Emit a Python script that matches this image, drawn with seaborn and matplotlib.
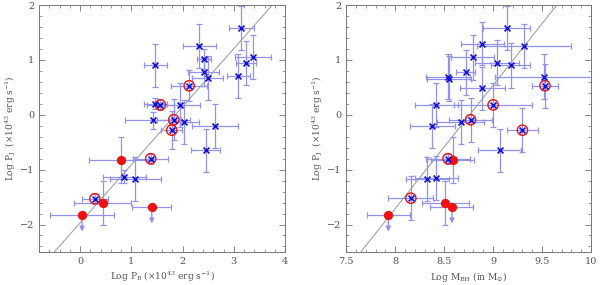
import numpy as np
import pandas as pd
import seaborn as sns
import matplotlib as mpl
import matplotlib.pyplot as plt
from matplotlib.ticker import MultipleLocator, FuncFormatter

sns.set_style("ticks")
plt.rcParams['font.family'] = ['DejaVu Serif']
plt.rcParams['mathtext.fontset'] = 'dejavuserif'

# ---- left panel: log P_B vs log P_J ----
pb_blue = [3.15, 2.33, 2.42, 1.47, 3.37, 3.24, 2.41, 2.49, 3.09, 1.47, 1.96, 1.43, 2.03, 2.64, 2.45, 0.86, 1.08]
pj_blue = [1.59, 1.25, 1.02, 0.90, 1.06, 0.95, 0.78, 0.67, 0.70, 0.20, 0.18, -0.10, -0.13, -0.21, -0.65, -1.13, -1.17]
pb_blue_err = [0.25, 0.32, 0.13, 0.23, 0.35, 0.20, 0.30, 0.30, 0.23, 0.23, 0.38, 0.55, 0.30, 0.45, 0.28, 0.42, 0.50]
pj_blue_err = [0.40, 0.40, 0.18, 0.40, 0.40, 0.40, 0.25, 0.40, 0.40, 0.10, 0.40, 0.15, 0.40, 0.40, 0.40, 0.12, 0.40]

pb_circ = [2.13, 1.57, 1.83, 1.79, 1.38, 0.29]
pj_circ = [0.53, 0.18, -0.09, -0.28, -0.80, -1.53]
pb_circ_err = [0.35, 0.26, 0.32, 0.20, 0.34, 0.25]
pj_circ_err = [0.28, 0.10, 0.37, 0.35, 0.09, 0.09]

pb_red = [0.80, 0.44]
pj_red = [-0.83, -1.61]
pb_red_err = [0.62, 0.55]
pj_red_err = [0.42, 0.40]

pb_lim = [0.04, 1.40]
pj_lim = [-1.83, -1.68]
pb_lim_err = [0.62, 0.38]

# ---- right panel: log M_BH vs log P_J ----
m_blue = [9.14, 8.89, 9.32, 8.79, 9.04, 9.18, 8.72, 8.54, 8.55, 9.52, 8.89, 8.42, 8.67, 8.38, 9.07, 8.33, 8.42]
mj_blue = [1.59, 1.30, 1.25, 1.05, 0.95, 0.90, 0.78, 0.69, 0.66, 0.69, 0.48, 0.18, -0.13, -0.21, -0.65, -1.17, -1.15]
m_blue_err = [0.24, 0.22, 0.48, 0.22, 0.22, 0.20, 0.10, 0.22, 0.22, 0.50, 0.23, 0.22, 0.24, 0.23, 0.22, 0.22, 0.22]
mj_blue_err = [0.40, 0.40, 0.40, 0.41, 0.41, 0.41, 0.41, 0.41, 0.41, 0.41, 0.40, 0.40, 0.40, 0.40, 0.40, 0.40, 0.40]

m_circ = [9.53, 9.00, 8.77, 9.30, 8.54, 8.16]
mj_circ = [0.53, 0.18, -0.09, -0.28, -0.80, -1.52]
m_circ_err = [0.13, 0.40, 0.22, 0.16, 0.22, 0.23]
mj_circ_err = [0.40, 0.40, 0.40, 0.40, 0.09, 0.40]

m_red = [8.59, 8.51]
mj_red = [-0.83, -1.61]
m_red_err = [0.22, 0.24]
mj_red_err = [0.42, 0.40]

m_lim = [7.93, 8.58]
mj_lim = [-1.83, -1.68]
m_lim_err = [0.22, 0.22]

ERR = "#9393ee"
BLUE = "#1010d8"
RED = "#ee1111"
AX = "#777777"
TXT = "#555555"


def panel(ax, bx, by, bxe, bye, cx, cy, cxe, cye, rx, ry, rxe, rye, lx, ly, lxe,
          xlim, line, xmaj, xmin, xlabel, ylab_x):
    kw = dict(fmt="none", ecolor=ERR, elinewidth=0.9, capsize=2.5, capthick=0.9, zorder=1)
    ax.errorbar(bx, by, xerr=bxe, yerr=bye, **kw)
    ax.errorbar(cx, cy, xerr=cxe, yerr=cye, **kw)
    ax.errorbar(rx, ry, xerr=rxe, yerr=rye, **kw)
    ax.errorbar(lx, ly, xerr=lxe, **kw)
    for x, y in zip(lx, ly):
        ax.annotate("", xy=(x, y - 0.3), xytext=(x, y),
                    arrowprops=dict(arrowstyle="-|>", color=ERR, lw=1.0,
                                    mutation_scale=7, shrinkA=0, shrinkB=0),
                    zorder=1)

    ax.plot(line[0], line[1], color="#999999", lw=0.7, zorder=0)

    df_red = pd.DataFrame({"x": rx + lx, "y": ry + ly})
    sns.scatterplot(data=df_red, x="x", y="y", ax=ax, color=RED, s=45,
                    edgecolor=RED, linewidth=0, zorder=3)
    df_circ = pd.DataFrame({"x": cx, "y": cy})
    sns.scatterplot(data=df_circ, x="x", y="y", ax=ax, s=55, facecolor="none",
                    edgecolor=RED, linewidth=1.0, zorder=3)
    df_blue = pd.DataFrame({"x": bx + cx, "y": by + cy})
    sns.scatterplot(data=df_blue, x="x", y="y", ax=ax, marker="x", color=BLUE,
                    s=18, linewidth=1.2, zorder=4)

    ax.set_xlim(*xlim)
    ax.set_ylim(-2.5, 2)
    ax.xaxis.set_major_locator(MultipleLocator(xmaj))
    ax.xaxis.set_minor_locator(MultipleLocator(xmin))
    ax.yaxis.set_major_locator(MultipleLocator(1))
    ax.yaxis.set_minor_locator(MultipleLocator(0.2))
    ax.xaxis.set_major_formatter(FuncFormatter(lambda v, p: "%g" % v))
    ax.tick_params(which="both", direction="in", top=True, right=True,
                   colors=AX, labelcolor=TXT, labelsize=7)
    ax.tick_params(which="major", length=4, width=0.6)
    ax.tick_params(which="minor", length=2, width=0.5)
    for s in ax.spines.values():
        s.set_color(AX)
        s.set_linewidth(0.7)
    ax.set_xlabel(xlabel, fontsize=6.5, color=TXT)
    ax.set_ylabel(r"Log P$_{\rm J}$  ($\times$10$^{43}$ erg s$^{-1}$)",
                  fontsize=6.5, color=TXT)
    ax.xaxis.set_label_coords(0.5, -0.072)
    ax.yaxis.set_label_coords(ylab_x, 0.5)


fig = plt.figure(figsize=(6.0, 2.85), dpi=100)
ax1 = fig.add_axes([0.065, 0.116, 0.410, 0.866])
ax2 = fig.add_axes([0.577, 0.116, 0.408, 0.866])

panel(ax1, pb_blue, pj_blue, pb_blue_err, pj_blue_err,
      pb_circ, pj_circ, pb_circ_err, pj_circ_err,
      pb_red, pj_red, pb_red_err, pj_red_err,
      pb_lim, pj_lim, pb_lim_err,
      (-0.8, 4.0), ([-0.5, 3.75], [-2.5, 2.0]), 1, 0.2,
      r"Log P$_{\rm B}$ ($\times$10$^{43}$ erg s$^{-1}$)", -0.085)

panel(ax2, m_blue, mj_blue, m_blue_err, mj_blue_err,
      m_circ, mj_circ, m_circ_err, mj_circ_err,
      m_red, mj_red, m_red_err, mj_red_err,
      m_lim, mj_lim, m_lim_err,
      (7.5, 10.0), ([7.65, 9.65], [-2.5, 2.0]), 0.5, 0.1,
      r"Log M$_{\rm BH}$ (in M$_{\odot}$)", -0.085)

fig.savefig("out.png", dpi=100)
